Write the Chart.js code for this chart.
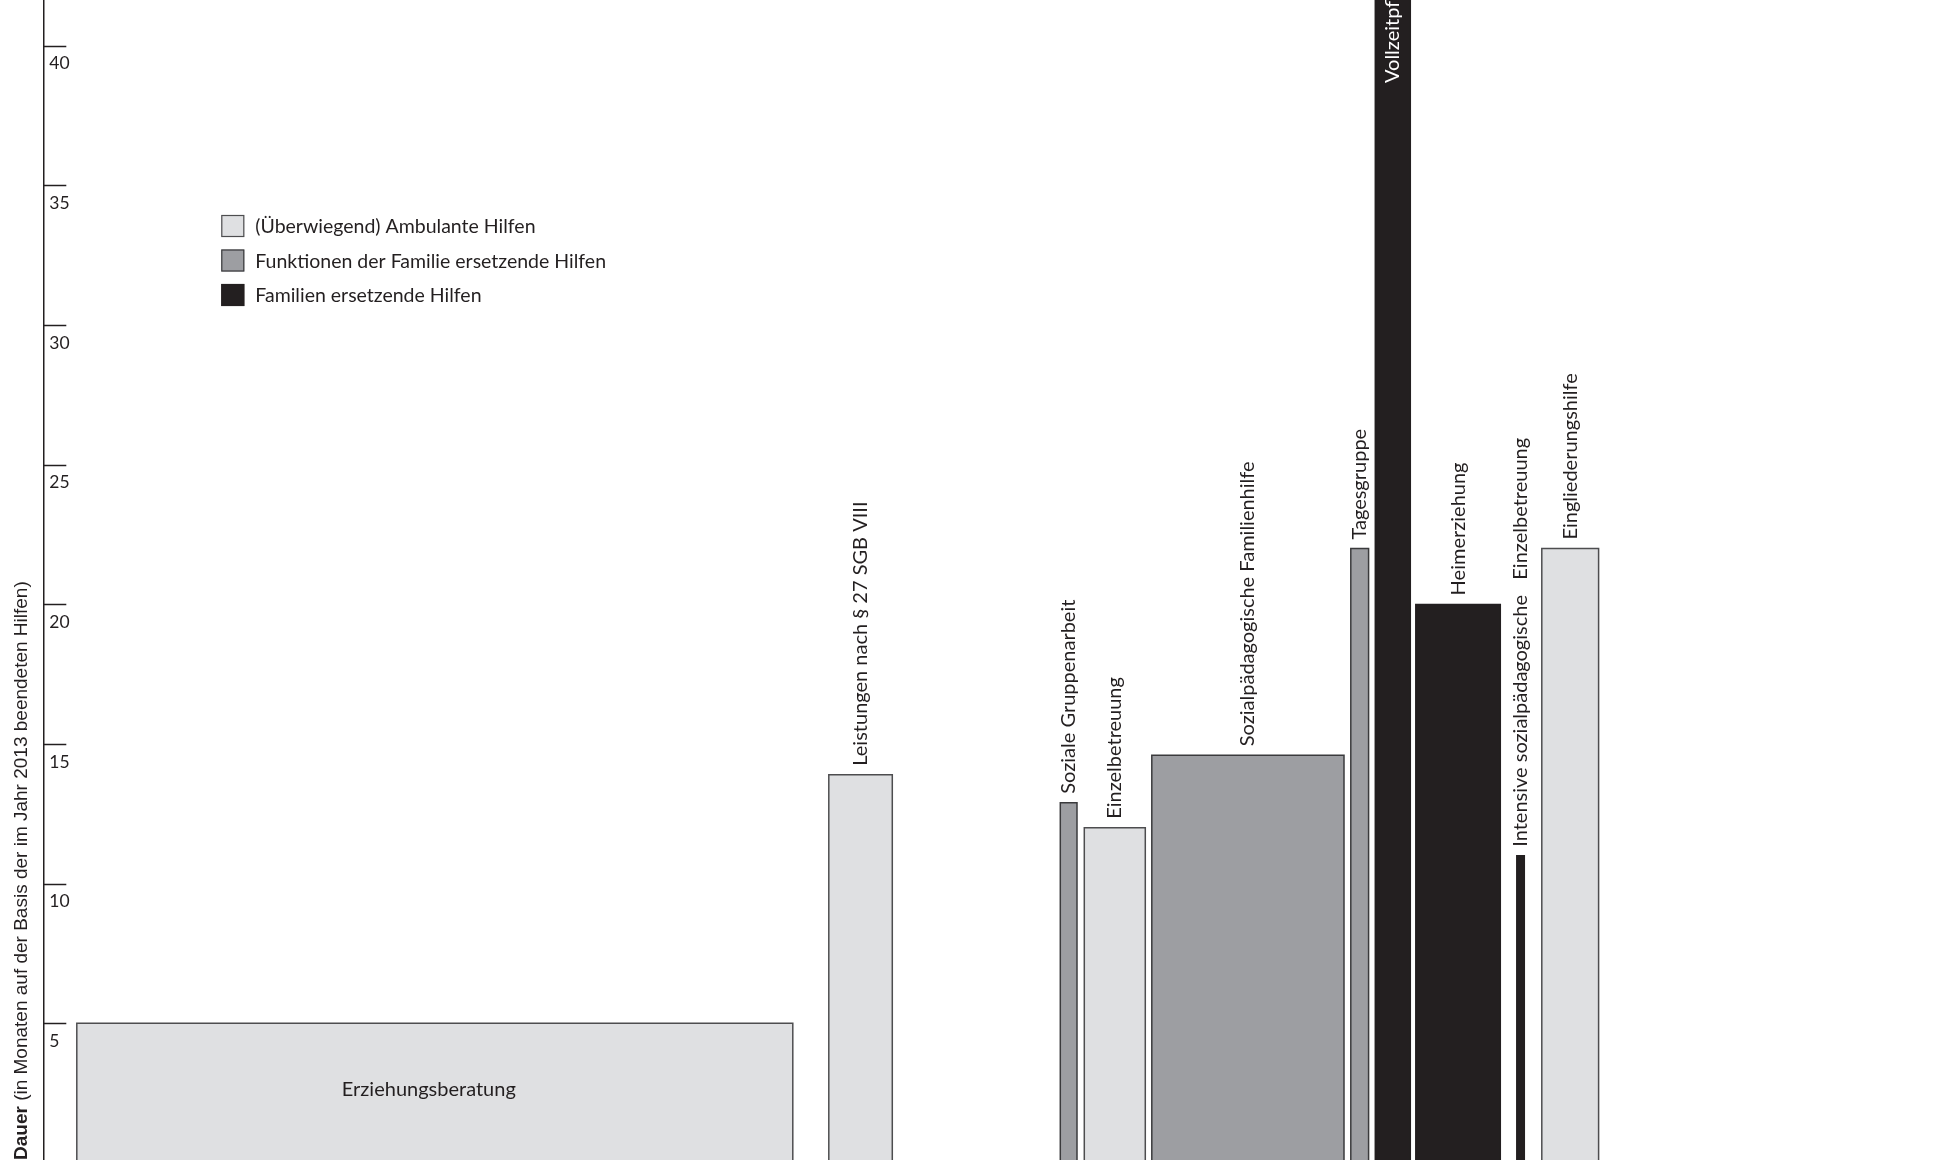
<!DOCTYPE html>
<html>
<head>
<meta charset="utf-8">
<script src="https://cdn.jsdelivr.net/npm/chart.js@4.4.1/dist/chart.umd.min.js"></script>
<style>
    html, body { margin: 0; padding: 0; background: #fff; }
</style>
</head>
<body>
<canvas id="hilfeDauer" width="1938" height="1160"></canvas>
<script>
// Hilfearten, durchschnittliche Dauer (Monate) und Breite der Säulen auf der x-Achse
var hilfen = ['Erziehungsberatung', 'Leistungen nach § 27 SGB VIII', 'Soziale Gruppenarbeit', 'Einzelbetreuung',
    'Sozialpädagogische Familienhilfe', 'Tagesgruppe', 'Vollzeitpflege', 'Heimerziehung',
    'Intensive sozialpädagogische   Einzelbetreuung', 'Eingliederungshilfe'];
var dauer = [5.0, 13.9, 12.9, 12.0, 14.6, 22.0, 44.0, 20.0, 11.0, 22.0];
var xVon = [33.5, 785.5, 1017, 1041, 1108.5, 1307.5, 1332, 1372.5, 1473.5, 1498.5];
var xBis = [749.5, 849, 1033.7, 1102, 1300.7, 1325.3, 1367, 1457, 1481, 1555.3];
var gruppe = [0, 0, 1, 0, 1, 1, 2, 2, 2, 0];
var gruppenNamen = ['(Überwiegend) Ambulante Hilfen', 'Funktionen der Familie ersetzende Hilfen', 'Familien ersetzende Hilfen'];
var yTicks = [5, 10, 15, 20, 25, 30, 35, 40];

var fuellFarbe = ['#dfe0e2', '#9d9ea2', '#231f20'];
var randFarbe = ['#4d4d4f', '#3a3a3c', '#231f20'];
var textFarbe = '#231f20';
var schrift = 'Lato, "Noto Sans", sans-serif';

// jede Säule als geschlossenes Rechteck auf linearer x-Achse
var datasets = hilfen.map(function (name, i) {
    return {
        label: name,
        data: [
            { x: xVon[i], y: 0 },
            { x: xVon[i], y: dauer[i] },
            { x: xBis[i], y: dauer[i] },
            { x: xBis[i], y: 0 }
        ],
        backgroundColor: fuellFarbe[gruppe[i]],
        borderColor: randFarbe[gruppe[i]],
        borderWidth: 1.5,
        fill: 'origin',
        pointRadius: 0,
        tension: 0
    };
});

var beschriftung = {
    id: 'beschriftung',
    afterDatasetsDraw: function (chart) {
        var ctx = chart.ctx, xs = chart.scales.x, ys = chart.scales.y, area = chart.chartArea;
        ctx.save();

        // Teilstriche nach innen
        ctx.strokeStyle = textFarbe;
        ctx.lineWidth = 1.5;
        yTicks.forEach(function (v) {
            var py = Math.round(ys.getPixelForValue(v)) + 0.5;
            ctx.beginPath();
            ctx.moveTo(area.left, py);
            ctx.lineTo(area.left + 23, py);
            ctx.stroke();
        });

        // Säulenbeschriftung
        ctx.font = '20px ' + schrift;
        ctx.textBaseline = 'middle';
        hilfen.forEach(function (name, i) {
            var x0 = xs.getPixelForValue(xVon[i]), x1 = xs.getPixelForValue(xBis[i]);
            var xm = (x0 + x1) / 2;
            var top = ys.getPixelForValue(dauer[i]);
            var w = ctx.measureText(name).width;
            if (x1 - x0 > w + 40) {
                ctx.fillStyle = textFarbe;
                ctx.textAlign = 'center';
                ctx.fillText(name, xm - 6, (Math.max(top, area.top) + area.bottom) / 2 - 2);
                return;
            }
            ctx.save();
            if (dauer[i] > ys.max) {
                ctx.translate(xm, area.top + 83);
                ctx.fillStyle = '#ffffff';
            } else {
                ctx.translate(xm, top - 9);
                ctx.fillStyle = textFarbe;
            }
            ctx.rotate(-Math.PI / 2);
            ctx.textAlign = 'left';
            ctx.fillText(name, 0, 0);
            ctx.restore();
        });

        // Legende
        ctx.textAlign = 'left';
        ctx.font = '19.5px ' + schrift;
        gruppenNamen.forEach(function (name, g) {
            var bx = area.left + 178, by = 215 + g * 34.5;
            ctx.fillStyle = fuellFarbe[g];
            ctx.fillRect(bx, by, 23, 22);
            ctx.strokeStyle = randFarbe[g];
            ctx.lineWidth = 1.2;
            ctx.strokeRect(bx + 0.5, by + 0.5, 22, 21);
            ctx.fillStyle = textFarbe;
            ctx.fillText(name, bx + 34, by + 12);
        });

        // Achsentitel
        ctx.save();
        ctx.translate(22, 1160);
        ctx.rotate(-Math.PI / 2);
        ctx.textAlign = 'left';
        ctx.fillStyle = textFarbe;
        ctx.font = 'bold 19px "Liberation Sans Narrow", "Liberation Sans", sans-serif';
        ctx.fillText('Dauer', 0, 0);
        var dw = ctx.measureText('Dauer').width;
        ctx.font = '19px "Liberation Sans Narrow", "Liberation Sans", sans-serif';
        ctx.fillText(' (in Monaten auf der Basis der im Jahr 2013 beendeten Hilfen)', dw, 0);
        ctx.restore();

        ctx.restore();
    }
};

var chart = new Chart(document.getElementById('hilfeDauer'), {
    type: 'line',
    data: { datasets: datasets },
    options: {
        responsive: false,
        animation: false,
        devicePixelRatio: 1,
        layout: { padding: { left: 37.3, right: 0, top: 0, bottom: 0 } },
        plugins: {
            legend: { display: false },
            tooltip: { enabled: false }
        },
        scales: {
            x: { type: 'linear', min: 0, max: 1894.7, display: false },
            y: {
                min: 0.106,
                max: 41.64,
                border: { display: true, color: textFarbe, width: 1.5 },
                grid: { drawOnChartArea: false, drawTicks: false },
                afterFit: function (scale) {
                    scale.width = 6;
                    scale.paddingTop = 0;
                    scale.paddingBottom = 0;
                },
                ticks: {
                    stepSize: 5,
                    includeBounds: false,
                    mirror: true,
                    padding: 6,
                    labelOffset: 18,
                    color: textFarbe,
                    font: { family: schrift, size: 17.5 },
                    callback: function (value) {
                        return yTicks.indexOf(value) >= 0 ? value : '';
                    }
                }
            }
        }
    },
    plugins: [beschriftung]
});
</script>
</body>
</html>
